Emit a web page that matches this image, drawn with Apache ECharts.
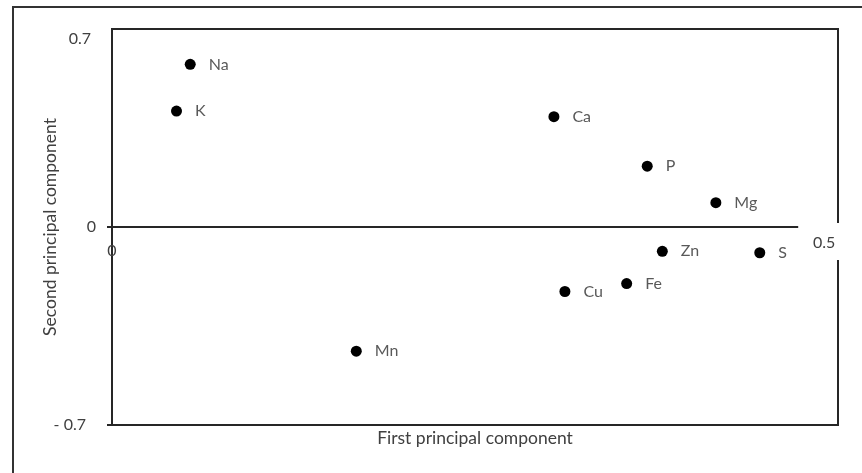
<!DOCTYPE html>
<html>
<head>
<meta charset="utf-8">
<script src="https://cdn.jsdelivr.net/npm/echarts@6/dist/echarts.min.js"></script>
<style>
  html, body { margin: 0; padding: 0; background: #fff; }
  #chart { width: 862px; height: 473px; }
</style>
</head>
<body>
<div id="chart"></div>
<script>
// Element loadings on the first two principal components
const elements = ['Na', 'K', 'Ca', 'P', 'Mg', 'Zn', 'S', 'Fe', 'Cu', 'Mn'];
const pc1 = [0.057, 0.047, 0.322, 0.390, 0.440, 0.401, 0.472, 0.375, 0.330, 0.178];
const pc2 = [0.575, 0.410, 0.390, 0.215, 0.086, -0.086, -0.091, -0.200, -0.228, -0.439];

// Axis ticks and their printed labels
const xTicks = [0, 0.5];
const xTickLabels = ['0', '0.5'];
const yTicks = [-0.7, 0, 0.7];
const yTickLabels = ['- 0.7', '0', '0.7'];
const xMax = 0.529;

const FONT = 'Lato';
const INK = '#262626';
const LABEL_SIZE = 16;

// Plot box (pixels); the x axis sits at the vertical middle, where y = 0
const GRID = { left: 112, top: 29, right: 24, bottom: 48 };
const PLOT_H = 473 - GRID.top - GRID.bottom;

function labelFor(ticks, labels, v) {
  for (let i = 0; i < ticks.length; i++) {
    if (Math.abs(ticks[i] - v) < 1e-9) return labels[i];
  }
  return '';
}

const points = elements.map((name, i) => ({ name: name, value: [pc1[i], pc2[i]] }));

const chart = echarts.init(document.getElementById('chart'), null, { renderer: 'canvas' });

chart.setOption({
  backgroundColor: '#fff',
  animation: false,
  textStyle: { fontFamily: FONT },
  grid: {
    left: GRID.left, top: GRID.top, right: GRID.right, bottom: GRID.bottom,
    containLabel: false,
    outerBoundsMode: 'none',
    show: true, borderColor: INK, borderWidth: 2, backgroundColor: 'transparent'
  },
  xAxis: {
    type: 'value',
    z: 5,
    min: xTicks[0],
    max: xMax,
    position: 'bottom',
    offset: -PLOT_H / 2,
    axisLine: { show: false, onZero: false },
    axisTick: { show: false },
    splitLine: { show: false },
    axisLabel: {
      customValues: xTicks,
      margin: 8,
      color: '#404040',
      fontSize: LABEL_SIZE,
      fontFamily: FONT,
      formatter: function (v) {
        const t = labelFor(xTicks, xTickLabels, v);
        if (!t) return '';
        return v === 0 ? '{z|' + t + '}' : '{h|' + t + '}';
      },
      rich: {
        z: { fontSize: LABEL_SIZE, color: '#404040', fontFamily: FONT, padding: [8, 0, 0, 0] },
        h: { fontSize: LABEL_SIZE, color: '#404040', fontFamily: FONT, padding: [0, 0, 0, 52] }
      }
    },
    name: 'First principal component',
    nameLocation: 'middle',
    nameGap: 202,
    nameMoveOverlap: false,
    nameTextStyle: { fontSize: 17.5, color: '#404040', fontFamily: FONT }
  },
  yAxis: {
    type: 'value',
    min: yTicks[0],
    max: yTicks[yTicks.length - 1],
    axisLine: { show: false },
    axisTick: { show: true, length: 5, customValues: [yTicks[0], yTicks[1]], lineStyle: { color: INK, width: 2 } },
    splitLine: { show: false },
    axisLabel: {
      customValues: yTicks,
      margin: 16,
      color: '#404040',
      fontSize: LABEL_SIZE,
      fontFamily: FONT,
      formatter: function (v) {
        const t = labelFor(yTicks, yTickLabels, v);
        if (v > 0.1) return '{top|' + t + '}';
        if (v < -0.1) return '{neg|' + t + '}';
        return t;
      },
      rich: {
        top: { fontSize: LABEL_SIZE, color: '#404040', fontFamily: FONT, padding: [20, 5, 0, 0] },
        neg: { fontSize: LABEL_SIZE, color: '#404040', fontFamily: FONT, padding: [0, 10, 0, 0] }
      }
    },
    name: 'Second principal component',
    nameLocation: 'middle',
    nameRotate: 90,
    nameGap: 53,
    nameMoveOverlap: false,
    nameTextStyle: { fontSize: 17.5, color: '#404040', fontFamily: FONT }
  },
  graphic: [
    {
      type: 'rect',
      z: 10,
      silent: true,
      shape: { x: 13, y: 7, width: 900, height: 600 },
      style: { fill: 'none', stroke: '#333', lineWidth: 2 }
    },
    {
      // white backing behind the "0.5" label, breaking the right edge of the box
      type: 'rect',
      z: 1,
      silent: true,
      shape: { x: 832, y: 223, width: 12, height: 37 },
      style: { fill: '#fff' }
    }
  ],
  series: [{
    type: 'scatter',
    data: points,
    symbol: 'circle',
    symbolSize: 11,
    itemStyle: { color: '#000', opacity: 1 },
    label: {
      show: true,
      position: 'right',
      distance: 13,
      formatter: '{b}',
      color: '#595959',
      fontSize: LABEL_SIZE,
      fontFamily: FONT
    },
    markLine: {
      silent: true,
      symbol: ['none', 'none'],
      label: { show: false },
      lineStyle: { color: INK, width: 2, type: 'solid' },
      data: [[{ coord: [xTicks[0], 0] }, { coord: [xTicks[xTicks.length - 1], 0] }]]
    }
  }]
});
</script>
</body>
</html>
